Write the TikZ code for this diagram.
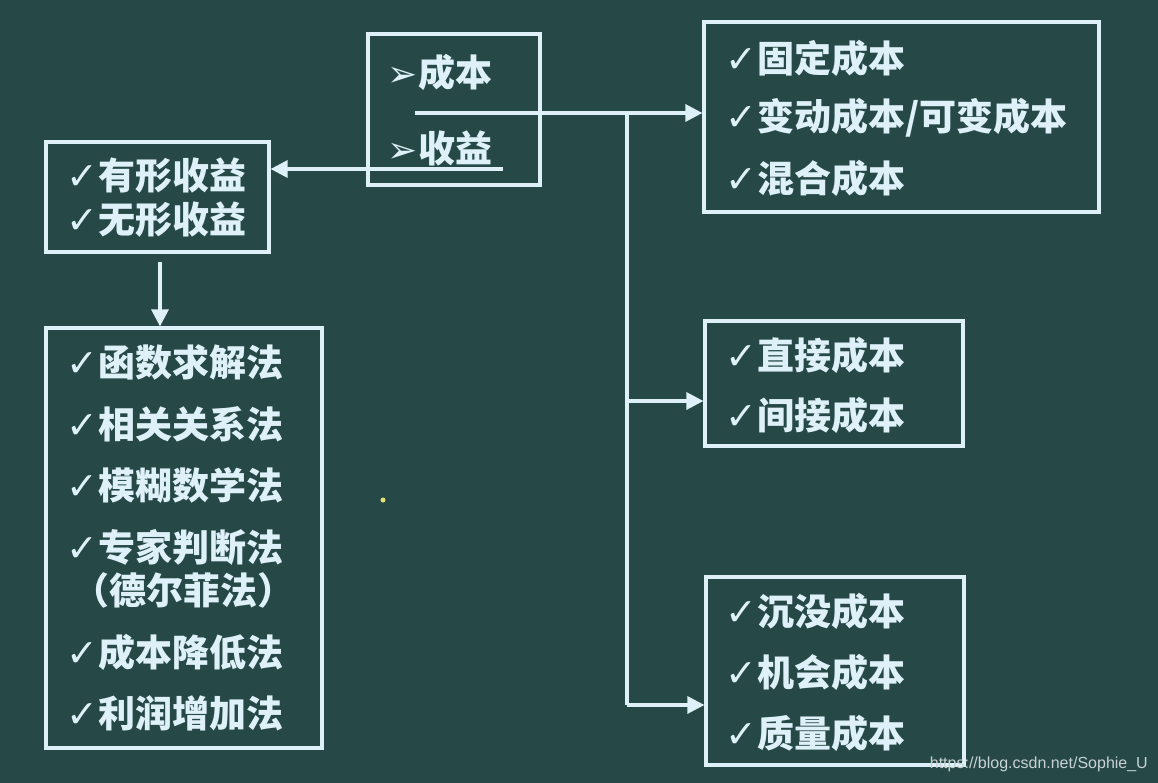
\documentclass[tikz,border=0pt]{standalone}
\usepackage{fontspec}
\newfontfamily\cjk{Noto Sans CJK SC}
\newfontfamily\sym{DejaVu Sans}
\newfontfamily\wm{Liberation Sans}
\usetikzlibrary{arrows.meta}
\definecolor{bg}{RGB}{38,73,71}
\definecolor{ln}{RGB}{222,240,248}
\definecolor{wmc}{RGB}{200,210,212}
\definecolor{dotc}{RGB}{225,225,120}
\tikzset{
  box/.style={draw=ln, line width=3.2pt, rectangle, inner sep=0pt},
  txt/.style={anchor=west, inner sep=0pt, text=ln, font=\cjk\bfseries\fontsize{37}{42}\selectfont},
  conn/.style={draw=ln, line width=3.2pt},
  arr/.style={conn, -{Triangle[length=17pt,width=17pt]}},
}
\newcommand{\ck}{{\sym\bfseries\fontsize{38}{42}\selectfont ✓}}
\newcommand{\ar}{{\sym\bfseries\fontsize{36}{42}\selectfont ➢}}
\begin{document}
\begin{tikzpicture}[x=1pt,y=-1pt]
\fill[bg] (0,0) rectangle (1158,783);
\useasboundingbox (0,0) rectangle (1158,783);

% boxes
\node[box, minimum width=172pt, minimum height=151pt] (top) at (454,109.5) {};
\node[box, minimum width=223pt, minimum height=110pt] (l1) at (157.5,197) {};
\node[box, minimum width=276pt, minimum height=420pt] (l2) at (184,538) {};
\node[box, minimum width=395pt, minimum height=190pt] (r1) at (901.5,117) {};
\node[box, minimum width=258pt, minimum height=125pt] (r2) at (834,383.5) {};
\node[box, minimum width=258pt, minimum height=188pt] (r3) at (835,671) {};

% top box text
\node[txt] (t1) at (387,72) {\ar\kern1pt 成本};
\node[txt] (t2) at (387,148) {\ar\kern1pt 收益};

% left box 1
\node[txt] (a1) at (66,176) {\ck 有形收益};
\node[txt] (a2) at (66,220) {\ck 无形收益};

% left box 2
\node[txt] (b1) at (66,362) {\ck 函数求解法};
\node[txt] (b2) at (66,424) {\ck 相关关系法};
\node[txt] (b3) at (66,485) {\ck 模糊数学法};
\node[txt] (b4) at (66,547) {\ck 专家判断法};
\node[txt] (b5) at (72,590) {（德尔菲法）};
\node[txt] (b6) at (66,652) {\ck 成本降低法};
\node[txt] (b7) at (66,713) {\ck 利润增加法};

% right box 1
\node[txt] (c1) at (725,58) {\ck 固定成本};
\node[txt] (c2) at (725,118) {\ck 变动成本/可变成本};
\node[txt] (c3) at (725,178) {\ck 混合成本};

% right box 2
\node[txt] (d1) at (725,355) {\ck 直接成本};
\node[txt] (d2) at (725,415) {\ck 间接成本};

% right box 3
\node[txt] (e1) at (725,611) {\ck 沉没成本};
\node[txt] (e2) at (725,672) {\ck 机会成本};
\node[txt] (e3) at (725,733) {\ck 质量成本};

% connectors
\coordinate (c0) at (415,113);
\coordinate (j1) at (627,113);
\coordinate (j2) at (627,401);
\coordinate (j3) at (627,705);
\coordinate (s0) at (503,169);
\coordinate (dn) at (160,262);

\draw[arr] (c0) -- (r1.west |- c0);
\draw[conn] (j1) -- (j3);
\draw[arr] (j2) -- (r2.west |- j2);
\draw[arr] (j3) -- (r3.west |- j3);
\draw[arr] (s0) -- (l1.east |- s0);
\draw[arr] (dn) -- (dn |- l2.north);

% small cursor dot
\fill[dotc] (383,500) circle (2.5pt);

% watermark
\node[anchor=east, inner sep=0pt, text=wmc, font=\wm\fontsize{16}{18}\selectfont] (wm) at (1148,764) {https://blog.csdn.net/Sophie\_U};
\end{tikzpicture}
\end{document}
